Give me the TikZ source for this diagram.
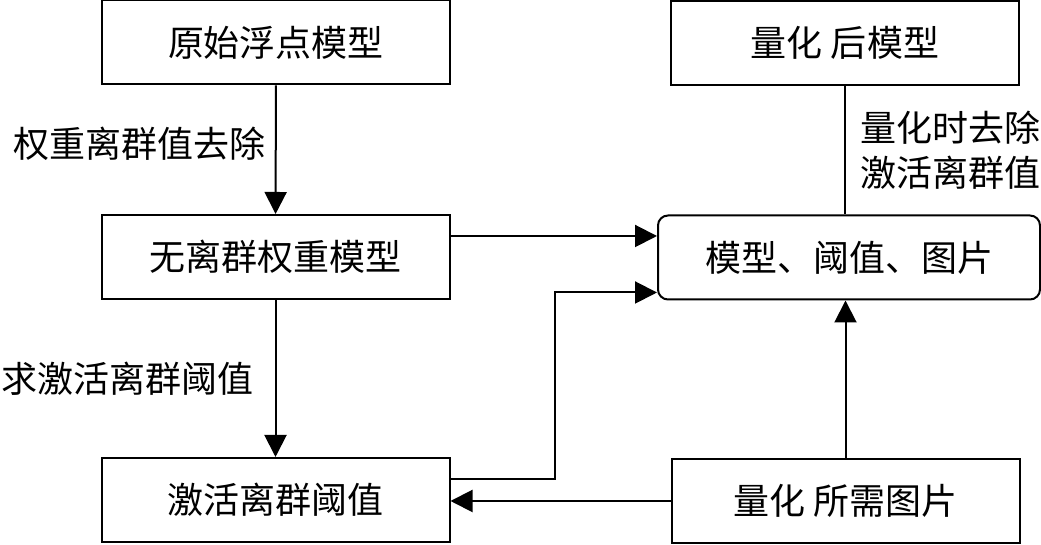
\documentclass[tikz,border=0pt]{standalone}
\usepackage{fontspec}
\newfontfamily\cjk{Noto Sans CJK SC}
\usetikzlibrary{arrows.meta,positioning}

\tikzset{
	box/.style={draw, line width=1pt, minimum width=174pt, minimum height=42pt, inner sep=0pt, font=\cjk\fontsize{18pt}{22pt}\selectfont},
	lbl/.style={inner sep=0pt, align=left, font=\cjk\fontsize{18pt}{22.5pt}\selectfont},
	arr/.style={line width=1pt, -{Triangle[length=11pt,width=11pt]}},
	ln/.style={line width=1pt}
}

\begin{document}
\begin{tikzpicture}[x=0.5pt, y=0.5pt]
	
	\useasboundingbox (0,0) rectangle (1041,545);
	
	\node[box] at (276, 502.5) (orig) {原始浮点模型};
	\node[box] at (275.5, 288) (nowt) {无离群权重模型};
	\node[box] at (275.5, 45) (thr) {激活离群阈值};
	
	\node[box] at (845, 502) (quant) {量化 后模型};
	\node[box, minimum width=191pt, rounded corners=5pt] at (849, 287.5) (mix) {模型、阈值、图片};
	\node[box] at (845.5, 44) (img) {量化 所需图片};
	
	\draw[arr] (orig) to node[lbl, pos=0.45, left=4.5pt] {权重离群值去除} (nowt);
	\draw[arr] (nowt) to node[lbl, left=10.5pt] {求激活离群阈值} (thr);
	
	\draw[arr] ([yshift=10.5pt]nowt.east) -- ([yshift=10.5pt]nowt.east -| mix.west);
	\draw[arr] ([yshift=10.5pt]thr.east) -- ++(104,0) |- ([yshift=-17.5pt]mix.west);
	\draw[arr] (img.west) -- (img.west -| thr.east);
	\draw[arr] (img) -- (img |- mix.south);
	
	\draw[ln] (quant) to node[lbl, right=7pt] {量化时去除\\激活离群值} (quant |- mix.north);
	
\end{tikzpicture}
\end{document}
